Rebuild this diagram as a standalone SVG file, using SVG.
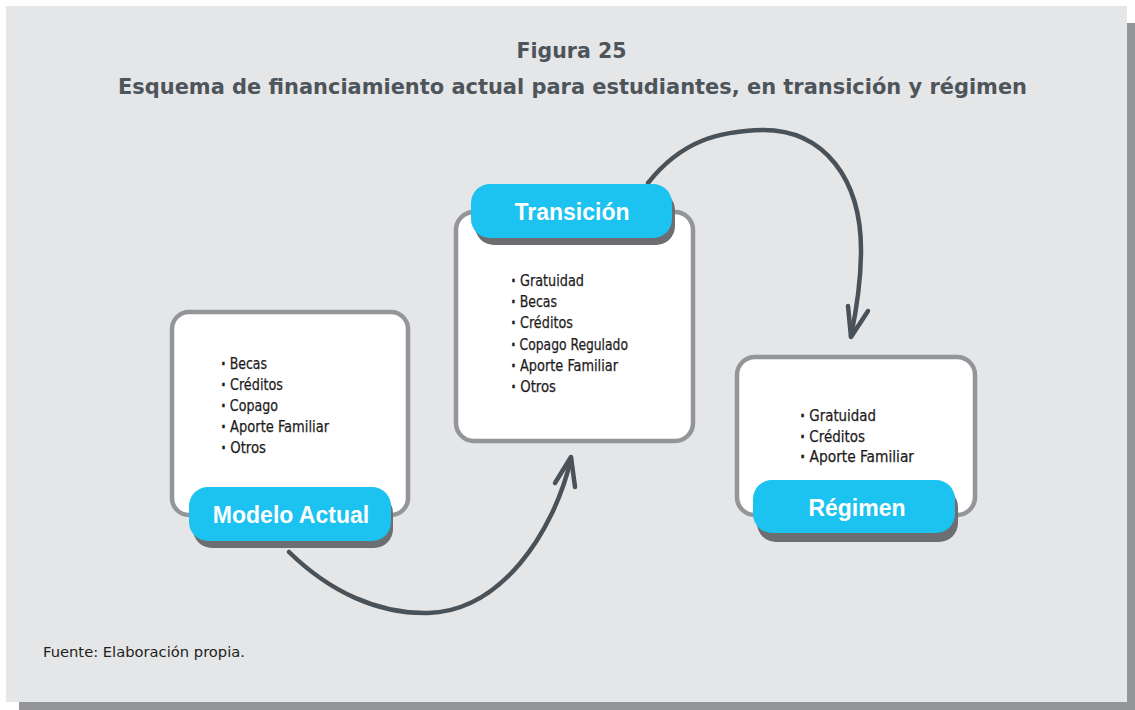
<svg xmlns="http://www.w3.org/2000/svg" width="1135" height="710" viewBox="0 0 1135 710">
  <style>
    .panel-shadow { fill: #939598; }
    .panel { fill: #E5E6E8; }
    .title { font-family: "DejaVu Sans", "Liberation Sans", sans-serif; font-weight: bold; font-size: 21px; fill: #4D555B; }
    .source { font-family: "DejaVu Sans", "Liberation Sans", sans-serif; font-size: 14.5px; fill: #231F20; }
    .box { fill: #FFFFFF; stroke: #939598; stroke-width: 4.5; }
    .pill { fill: #1CC2F0; }
    .pill-shadow { fill: #6D6E72; }
    .pill-text { font-family: "Liberation Sans", Arial, sans-serif; font-weight: bold; font-size: 23px; fill: #FFFFFF; text-anchor: middle; }
    .item { font-family: "DejaVu Sans Condensed", "DejaVu Sans", sans-serif; font-size: 16.5px; fill: #1E1B1C; stroke: #1E1B1C; stroke-width: 0.25; }
    .dot { font-weight: bold; }
    .conn { fill: none; stroke: #4A5259; stroke-width: 4.5; stroke-linecap: round; stroke-linejoin: round; }
  </style>

  <rect class="panel-shadow" x="19" y="23" width="1116" height="687"/>
  <rect class="panel" x="6" y="6" width="1121" height="696"/>

  <text class="title" x="571.5" y="58" text-anchor="middle" textLength="110" lengthAdjust="spacingAndGlyphs">Figura 25</text>
  <text class="title" x="118" y="94" textLength="909" lengthAdjust="spacingAndGlyphs">Esquema de financiamiento actual para estudiantes, en transición y régimen</text>

  <g id="connectors">
    <path class="conn" d="M289,552 C330,592 378,614 428,613 C500,611 553,535 571,459"/>
    <path class="conn" d="M555,483 L571,457 L575,487"/>
    <path class="conn" d="M648,183 C682,140 720,131 763,130 C825,130 861,180 861,250 C861,285 856,312 851,336"/>
    <path class="conn" d="M848,306 L851,337 L868,311"/>
  </g>

  <g id="node-modelo-actual">
    <rect class="box" x="172" y="312" width="236" height="203" rx="17"/>
    <text class="item" x="221" y="369" textLength="46" lengthAdjust="spacingAndGlyphs"><tspan class="dot">·</tspan> Becas</text>
    <text class="item" x="221" y="390" textLength="62" lengthAdjust="spacingAndGlyphs"><tspan class="dot">·</tspan> Créditos</text>
    <text class="item" x="221" y="411" textLength="57" lengthAdjust="spacingAndGlyphs"><tspan class="dot">·</tspan> Copago</text>
    <text class="item" x="221" y="432" textLength="108" lengthAdjust="spacingAndGlyphs"><tspan class="dot">·</tspan> Aporte Familiar</text>
    <text class="item" x="221" y="453" textLength="45" lengthAdjust="spacingAndGlyphs"><tspan class="dot">·</tspan> Otros</text>
    <rect class="pill-shadow" x="193" y="494" width="200" height="54" rx="19"/>
    <rect class="pill" x="189" y="487" width="202" height="54" rx="19"/>
    <text class="pill-text" x="291" y="523">Modelo Actual</text>
  </g>

  <g id="node-transicion">
    <rect class="box" x="456" y="212" width="237" height="229" rx="18"/>
    <text class="item" x="511" y="286" textLength="73" lengthAdjust="spacingAndGlyphs"><tspan class="dot">·</tspan> Gratuidad</text>
    <text class="item" x="511" y="307" textLength="46" lengthAdjust="spacingAndGlyphs"><tspan class="dot">·</tspan> Becas</text>
    <text class="item" x="511" y="328" textLength="62" lengthAdjust="spacingAndGlyphs"><tspan class="dot">·</tspan> Créditos</text>
    <text class="item" x="511" y="349.5" textLength="117" lengthAdjust="spacingAndGlyphs"><tspan class="dot">·</tspan> Copago Regulado</text>
    <text class="item" x="511" y="371" textLength="107" lengthAdjust="spacingAndGlyphs"><tspan class="dot">·</tspan> Aporte Familiar</text>
    <text class="item" x="511" y="392" textLength="45" lengthAdjust="spacingAndGlyphs"><tspan class="dot">·</tspan> Otros</text>
    <rect class="pill-shadow" x="475" y="191" width="200" height="54" rx="19"/>
    <rect class="pill" x="471" y="184" width="201" height="54" rx="19"/>
    <text class="pill-text" x="572" y="220">Transición</text>
  </g>

  <g id="node-regimen">
    <rect class="box" x="737" y="357" width="238" height="158" rx="18"/>
    <text class="item" x="800" y="420.5" textLength="76" lengthAdjust="spacingAndGlyphs"><tspan class="dot">·</tspan> Gratuidad</text>
    <text class="item" x="800" y="441.5" textLength="65" lengthAdjust="spacingAndGlyphs"><tspan class="dot">·</tspan> Créditos</text>
    <text class="item" x="800" y="462" textLength="114" lengthAdjust="spacingAndGlyphs"><tspan class="dot">·</tspan> Aporte Familiar</text>
    <rect class="pill-shadow" x="757" y="488" width="201" height="54" rx="19"/>
    <rect class="pill" x="753" y="480" width="202" height="53" rx="19"/>
    <text class="pill-text" x="857" y="516">Régimen</text>
  </g>

  <text class="source" x="43" y="657" textLength="202" lengthAdjust="spacingAndGlyphs">Fuente: Elaboración propia.</text>
</svg>
